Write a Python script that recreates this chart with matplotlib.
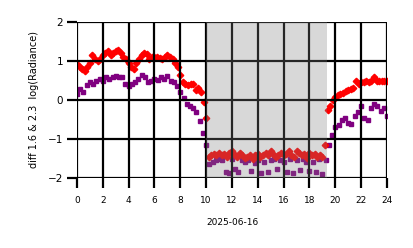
import numpy as np
import matplotlib
matplotlib.use("Agg")
import matplotlib.pyplot as plt

# Red series (diamonds), 0.2 h steps
red_hours = [round(0.2 * i, 1) for i in range(121)]
red_values = [
    0.92, 0.85, 0.80, 0.75, 0.85, 0.95, 1.15, 1.05, 1.00, 1.05,
    1.15, 1.20, 1.25, 1.15, 1.20, 1.25, 1.28, 1.20, 1.10, 1.05,
    0.95, 0.85, 0.80, 0.95, 1.05, 1.15, 1.20, 1.18, 1.05, 1.10,
    1.10, 1.10, 1.08, 1.05, 1.10, 1.15, 1.10, 1.05, 0.95, 0.85,
    0.65, 0.45, 0.40, 0.38, 0.42, 0.40, 0.25, 0.30, 0.20, -0.05,
    -0.45, -1.45, -1.40, -1.38, -1.42, -1.35, -1.40, -1.38, -1.45, -1.35,
    -1.32, -1.40, -1.45, -1.35, -1.40, -1.48, -1.45, -1.40, -1.50, -1.42,
    -1.38, -1.45, -1.40, -1.35, -1.40, -1.32, -1.38, -1.45, -1.40, -1.35,
    -1.42, -1.38, -1.32, -1.40, -1.45, -1.30, -1.35, -1.42, -1.38, -1.48,
    -1.35, -1.40, -1.38, -1.45, -1.40, -1.45, -1.15, -0.25, -0.15, 0.00,
    0.08, 0.12, 0.15, 0.18, 0.22, 0.25, 0.28, 0.32, 0.50, 0.42,
    0.45, 0.45, 0.48, 0.45, 0.48, 0.60, 0.50, 0.48, 0.50, 0.50,
    0.50,
]

# Purple series (squares), 0.25 h steps
purple_hours = [0.25 * i for i in range(97)]
purple_values = [
    0.15, 0.28, 0.20, 0.38, 0.45, 0.40, 0.48, 0.55, 0.50, 0.58,
    0.55, 0.60, 0.62, 0.60, 0.58, 0.40, 0.35, 0.42, 0.45, 0.55,
    0.65, 0.60, 0.45, 0.50, 0.55, 0.52, 0.60, 0.55, 0.62, 0.50,
    0.45, 0.35, 0.20, 0.05, -0.10, -0.15, -0.20, -0.30, -0.55, -0.85,
    -1.15, -1.65, -1.58, -1.55, -1.50, -1.55, -1.85, -1.88, -1.50, -1.78,
    -1.85, -1.55, -1.60, -1.55, -1.82, -1.62, -1.55, -1.88, -1.58, -1.85,
    -1.55, -1.52, -1.78, -1.55, -1.60, -1.85, -1.52, -1.88, -1.55, -1.80,
    -1.50, -1.58, -1.82, -1.60, -1.85, -1.52, -1.90, -1.55, -1.15, -0.90,
    -0.70, -0.65, -0.50, -0.45, -0.60, -0.62, -0.40, -0.30, -0.15, -0.45,
    -0.50, -0.20, -0.10, -0.15, -0.28, -0.20, -0.42,
]

shade_start, shade_end = 10.0, 19.35
x_ticks = list(range(0, 25, 2))
y_ticks = [-2, -1, 0, 1, 2]

fig = plt.figure(figsize=(4.14, 2.48), dpi=100)
ax = fig.add_axes([77 / 414, 70 / 248, 310 / 414, 156 / 248])

ax.plot(purple_hours, purple_values, linestyle="none", marker="s",
        markersize=2.6, color="#800080", zorder=2)
ax.plot(red_hours, red_values, linestyle="none", marker="D",
        markersize=3.3, color="red", zorder=2.1)
ax.axvspan(shade_start, shade_end, color="grey", alpha=0.3, lw=0, zorder=3)

ax.set_xlim(0, 24)
ax.set_ylim(-2, 2)
ax.set_xticks(x_ticks)
ax.set_yticks(y_ticks)
ax.grid(True, color="black", linewidth=1.6, zorder=4)
ax.set_axisbelow(False)
for s in ax.spines.values():
    s.set_visible(False)
ax.tick_params(axis="both", length=7, width=1.6, color="black")
ax.tick_params(axis="x", labelsize=6.5, pad=6)
ax.tick_params(axis="y", labelsize=7.5, pad=3)
ax.set_xlabel("2025-06-16", fontsize=6.5, labelpad=9)
ax.set_ylabel("diff 1.6 & 2.3  log(Radiance)", fontsize=7, labelpad=6)

fig.savefig("out.png", dpi=100)
